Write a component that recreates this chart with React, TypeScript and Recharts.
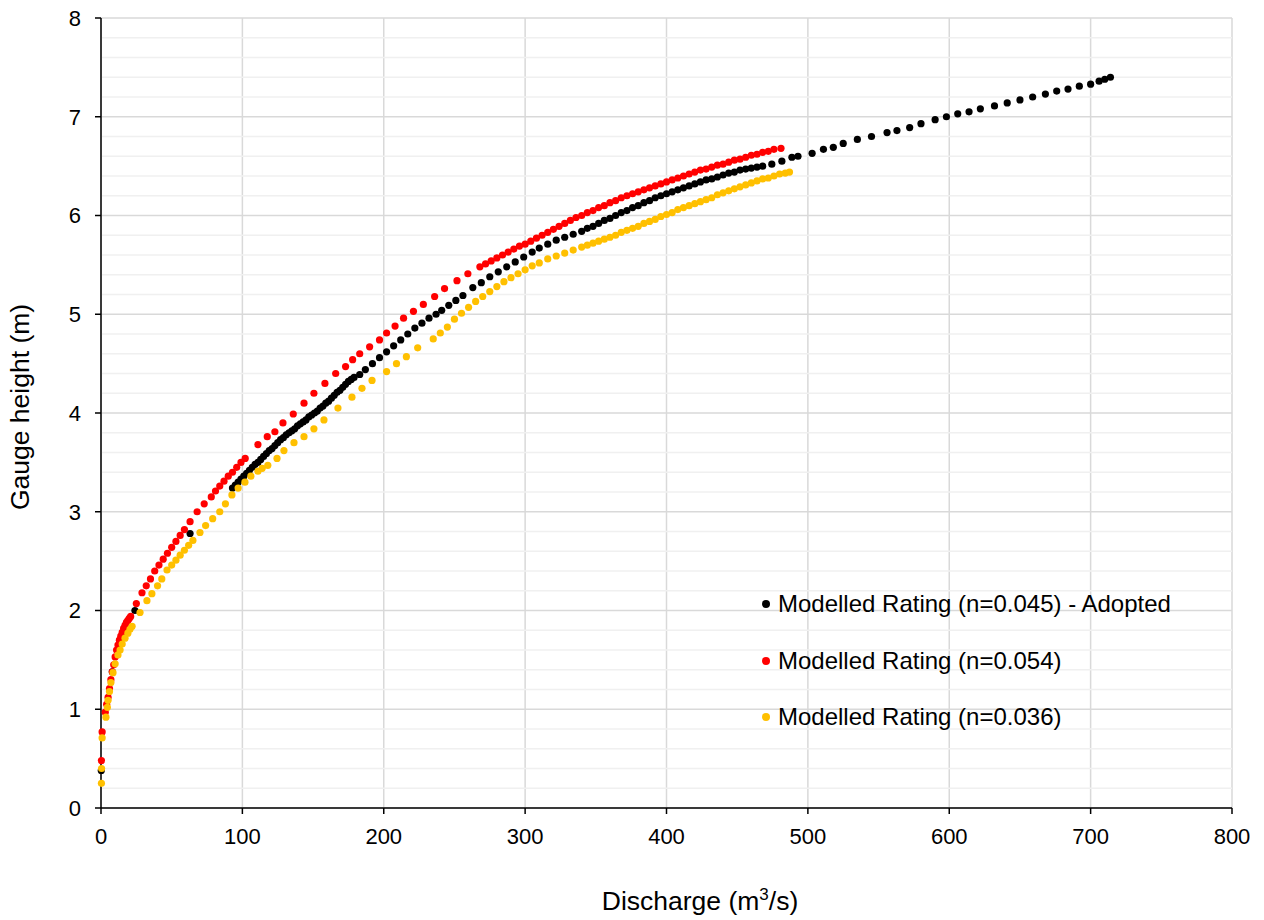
import { ScatterChart, Scatter, XAxis, YAxis, CartesianGrid, ReferenceLine } from 'recharts';

// Discharge (m3/s) vs gauge height (m)
const adopted: [number, number][] = [
  [0.2, 0.38], [8, 1.38], [24, 2.0], [63, 2.78],
  [93, 3.24], [95, 3.27], [97, 3.3], [99, 3.33], [101, 3.36], [103, 3.39], [105, 3.42], [107, 3.45],
  [109, 3.48], [111, 3.5], [113, 3.53], [115, 3.56], [117, 3.59], [119, 3.62], [121, 3.64], [123, 3.67],
  [125, 3.7], [127, 3.73], [129, 3.75], [131, 3.78], [133, 3.8], [135, 3.82], [137, 3.84], [139, 3.87],
  [141, 3.89], [143, 3.91], [145, 3.93], [147, 3.96], [149, 3.98], [151, 4.0], [153, 4.02], [155, 4.05],
  [157, 4.07], [159, 4.1], [161, 4.12], [163, 4.15], [165, 4.18], [167, 4.21], [169, 4.23], [171, 4.26],
  [173, 4.29], [175, 4.32], [177, 4.34], [179, 4.36],
  [183, 4.39], [187, 4.44], [192, 4.5], [197, 4.56], [202, 4.62], [207, 4.68], [212, 4.74], [217, 4.8],
  [222, 4.86], [227, 4.91], [232, 4.96], [237, 5.0], [241, 5.04], [246, 5.09], [251, 5.14], [256, 5.19],
  [263, 5.27], [269, 5.32], [275, 5.38], [281, 5.43], [287, 5.48], [293, 5.53], [299, 5.58], [305, 5.63],
  [310, 5.67], [316, 5.71], [322, 5.75], [328, 5.78], [334, 5.81],
  [340, 5.84], [344, 5.87], [348, 5.89], [352, 5.92], [356, 5.95], [360, 5.97], [364, 6.0], [368, 6.03],
  [372, 6.05], [376, 6.08], [380, 6.1], [384, 6.13], [388, 6.15], [392, 6.18], [396, 6.2], [400, 6.22],
  [404, 6.24], [408, 6.26], [412, 6.28], [416, 6.3], [420, 6.32], [424, 6.34], [428, 6.36], [432, 6.37],
  [436, 6.39], [440, 6.41], [444, 6.43], [448, 6.44], [452, 6.46], [456, 6.47], [460, 6.48], [464, 6.49],
  [468, 6.5], [474.5, 6.52], [481.6, 6.55], [488.7, 6.59], [493, 6.6], [503, 6.63], [511, 6.67],
  [518, 6.69], [525, 6.73], [535, 6.77],
  [545, 6.8], [556, 6.84], [563, 6.86], [572, 6.89], [580, 6.93], [590, 6.97], [598, 7.0], [606, 7.03],
  [614, 7.05], [622, 7.08], [632, 7.11], [641, 7.14], [650, 7.17], [659, 7.2], [668, 7.23], [676, 7.26],
  [684, 7.28], [692, 7.31], [700, 7.33], [706, 7.36], [710, 7.38], [714, 7.4],
];

const highN: [number, number][] = [
  [0.3, 0.48], [0.8, 0.77], [3, 0.97], [4, 1.05], [5, 1.12], [6, 1.21], [7, 1.3], [8, 1.38], [9, 1.45],
  [10, 1.53], [11, 1.6], [12, 1.65], [13, 1.7], [14, 1.74], [15, 1.78], [16, 1.82], [17, 1.85], [18, 1.88],
  [19, 1.9], [20, 1.92], [21, 1.94], [25, 2.07], [29, 2.18], [32, 2.25], [35, 2.32], [38, 2.4], [41, 2.46],
  [44, 2.52], [47, 2.58], [50, 2.64], [53, 2.7], [56, 2.76], [59, 2.82], [63, 2.9], [68, 3.0], [73, 3.08],
  [78, 3.15], [81, 3.21], [84, 3.26], [87, 3.31], [90, 3.36], [93, 3.4], [96, 3.45], [99, 3.5],
  [102, 3.54], [111, 3.68], [117.6, 3.76], [123, 3.81], [128.7, 3.9], [136, 3.99], [143.6, 4.1],
  [150.6, 4.2], [158.4, 4.3], [166, 4.4], [173, 4.47], [178, 4.54], [183, 4.6], [190, 4.67], [197, 4.74],
  [202, 4.81], [208, 4.88], [214, 4.96], [221, 5.03], [228, 5.1], [236, 5.18], [243, 5.26], [251.8, 5.34],
  [259.5, 5.41],
  [268, 5.48], [272, 5.51], [276, 5.54], [280, 5.57], [284, 5.6], [288, 5.63], [292, 5.66], [296, 5.69],
  [300, 5.71], [304, 5.74], [308, 5.77], [312, 5.8], [316, 5.83], [320, 5.86], [324, 5.89], [328, 5.92],
  [332, 5.95], [336, 5.98], [340, 6.0], [344, 6.03], [348, 6.05], [352, 6.08], [356, 6.1], [360, 6.13],
  [364, 6.15], [368, 6.18], [372, 6.2], [376, 6.22], [380, 6.24], [384, 6.26], [388, 6.28], [392, 6.3],
  [396, 6.32], [400, 6.34], [404, 6.36], [408, 6.38], [412, 6.4], [416, 6.42], [420, 6.44], [424, 6.46],
  [428, 6.47], [432, 6.49], [436, 6.51], [440, 6.52], [444, 6.54], [448, 6.56], [452, 6.57], [456, 6.59],
  [460, 6.61], [464, 6.62], [468, 6.64], [472, 6.65], [476, 6.67], [481, 6.68],
];

const lowN: [number, number][] = [
  [0.3, 0.25], [0.4, 0.4], [0.8, 0.71], [3.5, 0.92], [4.5, 1.02], [5, 1.09], [6, 1.18], [7, 1.27],
  [8.5, 1.37], [10, 1.46], [12, 1.55], [13.5, 1.6], [15, 1.66], [17, 1.72], [19, 1.77], [20.5, 1.81],
  [22, 1.84], [27.6, 1.98], [32.5, 2.1], [36, 2.17], [40, 2.25], [43, 2.32], [46.7, 2.41], [50, 2.46],
  [53, 2.51], [56, 2.56], [59, 2.61], [62, 2.66], [65, 2.71], [70, 2.79], [74, 2.86], [79, 2.93],
  [84, 3.0], [88, 3.08], [92.6, 3.17], [97, 3.24], [101.8, 3.3], [106, 3.36], [111, 3.41], [114, 3.44],
  [118, 3.47], [124.5, 3.54], [129.4, 3.62], [136.5, 3.7], [143.6, 3.76], [150.6, 3.84], [157.7, 3.93],
  [167.6, 4.05], [177.5, 4.16], [184.6, 4.25], [191.7, 4.33], [202, 4.42], [209, 4.5], [216, 4.57],
  [224, 4.66], [235, 4.75], [240, 4.81], [245, 4.87], [250, 4.95], [255, 5.01], [260, 5.07], [265, 5.13],
  [270, 5.18], [275, 5.23], [280, 5.28], [285, 5.33], [290, 5.37], [295, 5.41], [300, 5.45], [305, 5.49],
  [310, 5.52], [316, 5.56], [322, 5.59], [328, 5.62], [334, 5.65], [340, 5.68], [344, 5.7], [348, 5.72],
  [352, 5.74], [356, 5.76], [360, 5.78], [364, 5.8], [368, 5.83], [372, 5.85], [376, 5.87], [380, 5.89],
  [384, 5.92], [388, 5.94], [392, 5.96], [396, 5.99], [400, 6.01], [404, 6.03], [408, 6.06], [412, 6.08],
  [416, 6.1], [420, 6.12], [424, 6.14], [428, 6.16], [432, 6.18], [436, 6.21], [440, 6.23], [444, 6.25],
  [448, 6.27], [452, 6.29], [456, 6.31], [460, 6.33], [464, 6.35], [468, 6.37], [472, 6.38], [476, 6.4],
  [480, 6.42], [484, 6.43], [487, 6.44],
];

const xTicks = [0, 100, 200, 300, 400, 500, 600, 700, 800];
const yTicks = [0, 1, 2, 3, 4, 5, 6, 7, 8];
const yMinor = [
  0.2, 0.4, 0.6, 0.8, 1.2, 1.4, 1.6, 1.8, 2.2, 2.4, 2.6, 2.8, 3.2, 3.4, 3.6, 3.8,
  4.2, 4.4, 4.6, 4.8, 5.2, 5.4, 5.6, 5.8, 6.2, 6.4, 6.6, 6.8, 7.2, 7.4, 7.6, 7.8,
];

const series = [
  { name: 'Modelled Rating (n=0.045) - Adopted', color: '#000000', points: adopted },
  { name: 'Modelled Rating (n=0.054)', color: '#ff0000', points: highN },
  { name: 'Modelled Rating (n=0.036)', color: '#ffc000', points: lowN },
];

const FONT = '"Liberation Sans", Arial, sans-serif';

const dot = (color: string) => (props: any) => (
  <circle cx={props.cx} cy={props.cy} r={3.6} fill={color} />
);

function LegendBox() {
  return (
    <div style={{ position: 'absolute', left: 762, top: 576, fontFamily: FONT, fontSize: 24, color: '#000' }}>
      {series.map((s) => (
        <div key={s.name} style={{ display: 'flex', alignItems: 'center', height: 56.5, whiteSpace: 'nowrap' }}>
          <span style={{ width: 8, height: 8, borderRadius: '50%', background: s.color, marginRight: 8 }} />
          <span>{s.name}</span>
        </div>
      ))}
    </div>
  );
}

export default function App() {
  return (
    <div style={{ position: 'absolute', left: 0, top: 0, width: 1264, height: 920, background: '#fff' }}>
      <ScatterChart
        width={1264}
        height={920}
        margin={{ top: 18, right: 32, left: 41, bottom: 82 }}
        style={{ fontFamily: FONT }}
      >
        {yMinor.map((v) => (
          <ReferenceLine key={v} y={v} stroke="#f0f0f0" strokeWidth={1.5} ifOverflow="hidden" />
        ))}
        <CartesianGrid stroke="#d9d9d9" strokeWidth={1.5} />
        <XAxis
          type="number"
          dataKey="q"
          domain={[0, 800]}
          ticks={xTicks}
          interval={0}
          height={30}
          tickSize={6}
          tickMargin={14}
          stroke="#000"
          strokeWidth={1.5}
          tick={{ fill: '#000', fontSize: 22 }}
          label={{
            content: () => (
              <text x={700} y={910} textAnchor="middle" fontSize={26.5} fill="#000" fontFamily={FONT}>
                <tspan>Discharge (m</tspan>
                <tspan dy={-10} fontSize={17}>3</tspan>
                <tspan dy={10}>/s)</tspan>
              </text>
            ),
          }}
        />
        <YAxis
          type="number"
          dataKey="h"
          domain={[0, 8]}
          ticks={yTicks}
          interval={0}
          width={60}
          tickSize={6}
          tickMargin={14}
          stroke="#000"
          strokeWidth={1.5}
          tick={{ fill: '#000', fontSize: 22 }}
          label={{
            content: () => (
              <text
                x={29}
                y={407}
                transform="rotate(-90 29 407)"
                textAnchor="middle"
                fontSize={26.5}
                fill="#000"
                fontFamily={FONT}
              >
                Gauge height (m)
              </text>
            ),
          }}
        />
        {series.map((s) => (
          <Scatter
            key={s.name}
            name={s.name}
            data={s.points.map(([q, h]) => ({ q, h }))}
            fill={s.color}
            shape={dot(s.color)}
            isAnimationActive={false}
          />
        ))}
      </ScatterChart>
      <LegendBox />
    </div>
  );
}
